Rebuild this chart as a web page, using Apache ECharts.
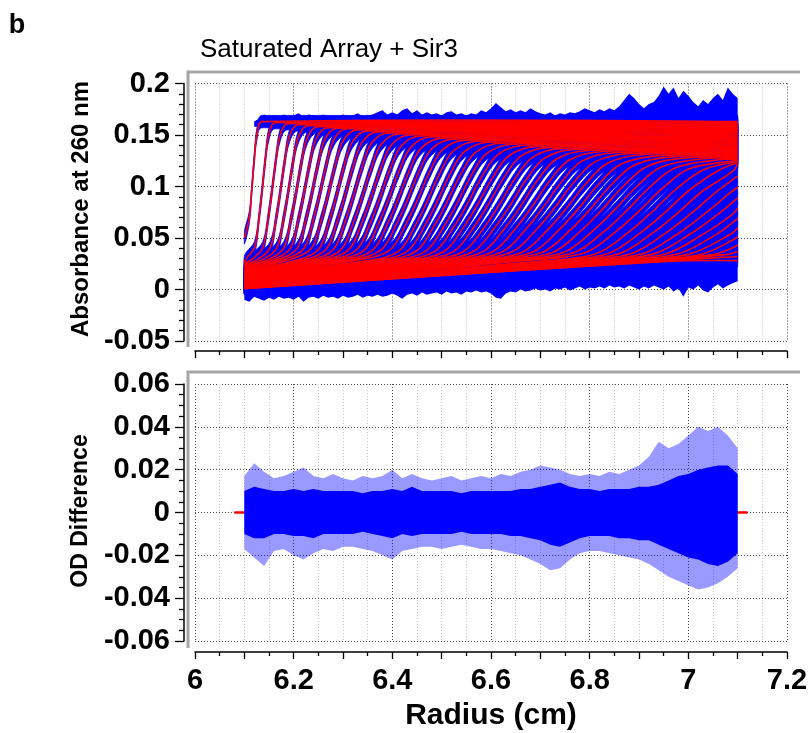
<!DOCTYPE html>
<html><head><meta charset="utf-8">
<script src="https://cdn.jsdelivr.net/npm/echarts@6/dist/echarts.min.js"></script>
<style>html,body{margin:0;padding:0;background:#fff}#c{width:812px;height:733px}</style>
</head><body><div id="c"></div>
<script>
// ---------- data ----------
// radial range of the recorded scans (cm)
const radiusStart = 6.10, radiusEnd = 7.10;

// one entry per scan (54 scans): boundary midpoint, half-width, values
const scanMid = [6.115,6.136,6.156,6.173,6.189,6.205,6.221,6.237,6.253,6.270,
  6.287,6.304,6.321,6.339,6.357,6.375,6.393,6.412,6.431,6.451,
  6.471,6.491,6.511,6.532,6.553,6.574,6.595,6.617,6.639,6.661,
  6.684,6.707,6.730,6.754,6.778,6.802,6.826,6.851,6.876,6.901,
  6.927,6.953,6.979,7.006,7.033,7.060,7.088,7.116,7.145,7.174,
  7.204,7.234,7.265,7.296];
const scanSpread = [0.011,0.014,0.017,0.019,0.021,0.023,0.025,0.027,0.029,0.031,
  0.033,0.035,0.037,0.039,0.041,0.043,0.045,0.047,0.049,0.051,
  0.053,0.055,0.057,0.059,0.061,0.063,0.065,0.067,0.069,0.071,
  0.074,0.077,0.080,0.083,0.086,0.089,0.092,0.095,0.098,0.101,
  0.104,0.107,0.110,0.113,0.116,0.120,0.124,0.128,0.132,0.136,
  0.140,0.144,0.148,0.152];
const scanMeniscus = [0.050,
  0.026,0.025,0.024,0.023,0.022,0.021,0.020,0.019,0.0185,0.018,
  0.0175,0.017,0.0165,0.016,0.0155,0.015,0.0145,0.014,0.0135,0.013,
  0.0125,0.012,0.0115,0.011,0.0105,0.010,0.0095,0.009,0.0085,0.008,
  0.0075,0.007,0.0066,0.0062,0.0058,0.0054,0.005,0.0047,0.0044,0.0041,
  0.0038,0.0035,0.0032,0.0029,0.0026,0.0023,0.002,0.0018,0.0016,0.0014,
  0.0012,0.001,0.0008];
const scanBase = [0.030,0.030,0.030,0.030,0.030,0.030,0.030,0.030,0.030,0.030,
  0.029,0.029,0.029,0.029,0.029,0.029,0.029,0.029,0.029,0.029,
  0.028,0.028,0.028,0.028,0.028,0.028,0.028,0.028,0.028,0.028,
  0.028,0.028,0.028,0.028,0.028,0.028,0.028,0.028,0.028,0.028,
  0.027,0.027,0.027,0.027,0.027,0.027,0.027,0.027,0.027,0.027,
  0.027,0.027,0.027,0.027];
const scanPlateau = [0.163,0.162,0.161,0.160,0.159,0.158,0.157,0.1565,0.156,0.155,
  0.154,0.153,0.152,0.151,0.150,0.149,0.148,0.147,0.146,0.145,
  0.144,0.143,0.142,0.141,0.140,0.139,0.138,0.137,0.136,0.135,
  0.134,0.133,0.132,0.131,0.130,0.129,0.128,0.127,0.126,0.125,
  0.124,0.123,0.122,0.121,0.120,0.119,0.118,0.117,0.116,0.115,
  0.114,0.113,0.112,0.111];
// value of each scan at the cell bottom (r = 7.10)
const scanEndValue = [0.163,0.162,0.161,0.160,0.159,0.158,0.157,0.1565,0.156,0.155,
  0.154,0.153,0.152,0.151,0.150,0.149,0.148,0.147,0.146,0.145,
  0.144,0.143,0.142,0.141,0.140,0.139,0.138,0.137,0.136,0.135,
  0.134,0.133,0.132,0.131,0.130,0.129,0.128,0.127,0.126,0.125,
  0.124,0.123,0.122,0.110,0.099,0.089,0.079,0.069,0.060,0.051,
  0.043,0.037,0.032,0.028];
// shape of a boundary: offset (in half-widths) -> fraction of the step
const profileOffset = [-2.3, -1.1, -0.45, 0, 0.45, 1.0, 1.9];
const profileFraction = [0, 0.08, 0.30, 0.50, 0.72, 0.92, 1];
// noise half-amplitude of the raw (blue) scans
const rawNoise = 0.006;

// blue noise envelope above the plateaus, radius 6.12 .. 7.10 step 0.01
const topNoiseStart = 6.12;
const topNoise = [0.163,0.166,0.170,0.168,0.169,0.167,0.170,0.168,0.169,0.171,
  0.168,0.170,0.169,0.168,0.170,0.168,0.169,0.167,0.170,0.168,
  0.169,0.171,0.168,0.169,0.170,0.172,0.174,0.170,0.172,0.170,
  0.174,0.176,0.171,0.174,0.170,0.172,0.170,0.171,0.169,0.172,
  0.173,0.170,0.171,0.169,0.171,0.170,0.174,0.172,0.176,0.181,
  0.177,0.173,0.175,0.172,0.174,0.172,0.176,0.173,0.171,0.170,
  0.172,0.169,0.171,0.170,0.172,0.171,0.173,0.176,0.174,0.172,
  0.175,0.173,0.176,0.174,0.178,0.184,0.190,0.186,0.180,0.176,
  0.180,0.182,0.188,0.197,0.190,0.196,0.186,0.193,0.188,0.182,
  0.178,0.184,0.180,0.186,0.190,0.184,0.196,0.190,0.186];
// blue noise envelope below the baselines, radius 6.10 .. 7.10 step 0.01
const bottomNoiseStart = 6.10;
const bottomNoise = [-0.010,-0.012,-0.007,-0.009,-0.011,-0.008,-0.010,-0.007,-0.009,-0.008,
  -0.010,-0.007,-0.012,-0.008,-0.007,-0.009,-0.006,-0.008,-0.007,-0.009,
  -0.006,-0.008,-0.007,-0.005,-0.008,-0.006,-0.007,-0.005,-0.007,-0.006,
  -0.004,-0.006,-0.009,-0.005,-0.004,-0.006,-0.003,-0.005,-0.004,-0.003,
  -0.005,-0.002,-0.004,-0.003,-0.005,-0.002,-0.003,-0.001,-0.003,-0.002,
  -0.004,-0.008,-0.009,-0.004,-0.002,-0.003,0.000,-0.002,-0.001,0.001,
  -0.001,0.000,-0.002,0.001,0.000,0.002,-0.001,0.001,0.003,0.000,
  0.002,0.001,0.003,0.001,0.004,0.002,0.003,0.001,0.004,0.002,
  0.000,0.003,0.001,0.004,0.002,0.000,0.003,-0.002,0.001,-0.007,
  0.002,0.000,0.004,-0.001,-0.003,0.002,0.005,0.001,0.004,0.006,0.008];
const noiseStep = 0.01;

// residuals (OD difference) envelopes, radius 6.10 .. 7.10 step 0.02
const residStart = 6.10, residStep = 0.02;
const residCoreUp = [0.010,0.012,0.011,0.010,0.010,0.011,0.010,0.011,0.010,0.010,
  0.010,0.010,0.009,0.010,0.010,0.011,0.010,0.012,0.010,0.010,
  0.010,0.010,0.009,0.010,0.010,0.010,0.010,0.010,0.011,0.011,
  0.012,0.013,0.014,0.012,0.011,0.011,0.010,0.011,0.011,0.011,
  0.012,0.012,0.013,0.015,0.017,0.018,0.020,0.021,0.022,0.022,0.018];
const residCoreDown = [-0.010,-0.012,-0.012,-0.010,-0.010,-0.011,-0.011,-0.012,-0.010,-0.010,
  -0.010,-0.010,-0.009,-0.010,-0.011,-0.012,-0.010,-0.011,-0.010,-0.010,
  -0.010,-0.010,-0.009,-0.010,-0.010,-0.010,-0.010,-0.011,-0.011,-0.012,
  -0.013,-0.015,-0.016,-0.014,-0.012,-0.011,-0.011,-0.011,-0.012,-0.012,
  -0.013,-0.013,-0.015,-0.017,-0.019,-0.021,-0.022,-0.024,-0.025,-0.023,-0.019];
const residOuterUp = [0.017,0.023,0.019,0.016,0.017,0.019,0.021,0.017,0.016,0.018,
  0.016,0.015,0.017,0.016,0.017,0.020,0.016,0.018,0.016,0.015,
  0.016,0.017,0.015,0.016,0.017,0.016,0.018,0.017,0.019,0.020,
  0.022,0.021,0.020,0.018,0.017,0.018,0.017,0.019,0.018,0.020,
  0.022,0.026,0.033,0.030,0.032,0.036,0.040,0.038,0.040,0.036,0.030];
const residOuterDown = [-0.017,-0.021,-0.025,-0.018,-0.017,-0.020,-0.022,-0.019,-0.017,-0.018,
  -0.016,-0.016,-0.017,-0.018,-0.020,-0.022,-0.018,-0.017,-0.016,-0.016,
  -0.017,-0.016,-0.015,-0.016,-0.017,-0.017,-0.018,-0.019,-0.020,-0.022,
  -0.024,-0.027,-0.026,-0.022,-0.019,-0.018,-0.018,-0.019,-0.020,-0.021,
  -0.022,-0.024,-0.027,-0.030,-0.032,-0.034,-0.036,-0.035,-0.033,-0.030,-0.026];
// red zero line of the residual panel
const residLine = [[6.08, 0], [7.12, 0]];

// axis ticks
const xTicks = {min: 6, max: 7.2, step: 0.1};
const yTopTicks = {min: -0.05, max: 0.2, step: 0.05};
const yBotTicks = {min: -0.06, max: 0.06, step: 0.02};

// ---------- build ----------
const FONT = "'Liberation Sans', Arial, Helvetica, sans-serif";
const BLUE = '#0000ff', RED = '#ff0000';
const SM = 0.35;

function scanPoints(i) {
  const pts = [[radiusStart, scanMeniscus[i]]];
  for (let k = 0; k < profileOffset.length; k++) {
    const x = scanMid[i] + profileOffset[k] * scanSpread[i];
    if (x > radiusStart + 0.003 && x < radiusEnd - 0.002) {
      pts.push([x, scanBase[i] + profileFraction[k] * (scanPlateau[i] - scanBase[i])]);
    }
  }
  pts.push([radiusEnd, scanEndValue[i]]);
  return pts;
}

function bandSeries(gridIdx, xs, hi, lo, fill, z) {
  return {
    type: 'custom', xAxisIndex: gridIdx, yAxisIndex: gridIdx, silent: true, z: z, clip: true,
    data: [[xs[0], 0]],
    renderItem: function (params, api) {
      const pts = [];
      for (let i = 0; i < xs.length; i++) pts.push(api.coord([xs[i], hi[i]]));
      for (let i = xs.length - 1; i >= 0; i--) pts.push(api.coord([xs[i], lo[i]]));
      return {type: 'polygon', shape: {points: pts}, style: {fill: fill, stroke: null}};
    }
  };
}

// raw scans: blue band of the read noise amplitude around every scan
function rawScanItem(params, api) {
  const i = api.value(2);
  const pts = scanPoints(i);
  const up = pts.map(p => api.coord([p[0], p[1] + rawNoise]));
  const dn = pts.map(p => api.coord([p[0], p[1] - rawNoise])).reverse();
  const c = up[0];
  return {type: 'polygon',
    shape: {points: up.concat(dn), smooth: SM, smoothConstraint: [[c[0], c[1]], [c[0], c[1]]]},
    style: {fill: BLUE, stroke: BLUE, lineWidth: 0.8}};
}
// fitted scans: red line
function fitScanItem(params, api) {
  const i = api.value(2);
  const pts = scanPoints(i).map(p => api.coord(p));
  return {type: 'polyline', shape: {points: pts, smooth: SM}, style: {stroke: RED, lineWidth: 1.6, fill: null}};
}

const topX = topNoise.map((_, i) => +(topNoiseStart + i * noiseStep).toFixed(3));
const topLo = topNoise.map(() => 0.158);
const botX = bottomNoise.map((_, i) => +(bottomNoiseStart + i * noiseStep).toFixed(3));
const botHi = bottomNoise.map(() => 0.024);
const resX = residCoreUp.map((_, i) => +(residStart + i * residStep).toFixed(3));
const scanItems = scanMid.map((m, i) => [Math.min(m, radiusEnd), scanPlateau[i] / 2, i]);

const series = [];
series.push(bandSeries(0, topX, topNoise, topLo, BLUE, 1));
series.push(bandSeries(0, botX, botHi, bottomNoise, BLUE, 1));
series.push({type: 'custom', xAxisIndex: 0, yAxisIndex: 0, silent: true, clip: true, z: 2,
  data: scanItems, renderItem: rawScanItem});
series.push({type: 'custom', xAxisIndex: 0, yAxisIndex: 0, silent: true, clip: true, z: 3,
  data: scanItems, renderItem: fitScanItem});
series.push({type: 'line', xAxisIndex: 1, yAxisIndex: 1, data: residLine, symbol: 'none', silent: true, z: 1,
  lineStyle: {color: RED, width: 2.5}});
series.push(bandSeries(1, resX, residOuterUp, residOuterDown, 'rgba(0,0,255,0.40)', 2));
series.push(bandSeries(1, resX, residCoreUp, residCoreDown, BLUE, 3));

const tickLab = {color: '#000', fontFamily: FONT, fontWeight: 'bold', fontSize: 29};
const blackLine = {color: '#000', width: 1.5};
const majorGrid = {color: '#4a4a4a', type: [1, 2], width: 1};
const minorGrid = {color: '#c4c4c4', type: [1, 2], width: 1};

function xAxis(gridIdx, withLabels, offset) {
  return {
    gridIndex: gridIdx, type: 'value', min: xTicks.min, max: xTicks.max, interval: xTicks.step,
    position: 'bottom', offset: offset,
    axisLine: {show: true, onZero: false, lineStyle: blackLine},
    axisTick: {show: true, inside: false, length: 7, lineStyle: {color: '#000', width: 1.3}},
    minorTick: {show: true, splitNumber: 2, length: 4, lineStyle: {color: '#000', width: 1.3}},
    axisLabel: Object.assign({show: withLabels, margin: 14, showMinLabel: true, showMaxLabel: true,
      formatter: v => { const k = Math.round(v * 10); return k % 2 === 0 ? String(k / 10) : ''; }}, tickLab),
    splitLine: {show: true, lineStyle: {color: ['#4a4a4a', '#c4c4c4'], type: [1, 2], width: 1}},
    minorSplitLine: {show: true, lineStyle: minorGrid},
    name: withLabels ? 'Radius (cm)' : '', nameLocation: 'middle', nameGap: 49,
    nameTextStyle: {color: '#000', fontFamily: FONT, fontWeight: 'bold', fontSize: 30}
  };
}
function yAxis(gridIdx, t, minorSplit) {
  return {
    gridIndex: gridIdx, type: 'value', min: t.min, max: t.max, interval: t.step,
    position: 'left', offset: 11,
    axisLine: {show: true, onZero: false, lineStyle: blackLine},
    axisTick: {show: true, inside: false, length: 9, lineStyle: {color: '#000', width: 1.3}},
    minorTick: {show: true, splitNumber: minorSplit, length: 5, lineStyle: {color: '#000', width: 1.3}},
    axisLabel: Object.assign({show: true, margin: 14, showMinLabel: true, showMaxLabel: true}, tickLab),
    splitLine: {show: true, lineStyle: majorGrid},
    minorSplitLine: {show: false}
  };
}

const option = {
  animation: false,
  backgroundColor: '#fff',
  grid: [
    {left: 195, right: 25, top: 83.5, height: 257.5, containLabel: false, outerBoundsMode: 'none'},
    {left: 195, right: 25, top: 384, height: 257, containLabel: false, outerBoundsMode: 'none'}
  ],
  xAxis: [xAxis(0, false, 10), xAxis(1, true, 11)],
  yAxis: [yAxis(0, yTopTicks, 5), yAxis(1, yBotTicks, 4)],
  graphic: [
    {type: 'polyline', silent: true, z: 0, shape: {points: [[188, 347], [188, 72], [800, 72]]},
      style: {stroke: '#a6a6a6', lineWidth: 3, fill: null}},
    {type: 'polyline', silent: true, z: 0, shape: {points: [[188, 648], [188, 372], [800, 372]]},
      style: {stroke: '#a6a6a6', lineWidth: 3, fill: null}},
    {type: 'text', x: 17, y: 26, silent: true,
      style: {text: 'b', font: "bold 27px 'Liberation Sans', Arial, sans-serif", fill: '#000', align: 'center', verticalAlign: 'middle'}},
    {type: 'text', x: 200, y: 50, silent: true,
      style: {text: 'Saturated Array + Sir3', font: "26px 'Liberation Sans', Arial, sans-serif", fill: '#000', align: 'left', verticalAlign: 'middle'}},
    {type: 'text', x: 81, y: 209, rotation: Math.PI / 2, silent: true,
      style: {text: 'Absorbance at 260 nm', font: "bold 24px 'Liberation Sans', Arial, sans-serif", fill: '#000', align: 'center', verticalAlign: 'middle'}},
    {type: 'text', x: 81, y: 511, rotation: Math.PI / 2, silent: true,
      style: {text: 'OD Difference', font: "bold 23px 'Liberation Sans', Arial, sans-serif", fill: '#000', align: 'center', verticalAlign: 'middle'}}
  ],
  series: series
};

const chart = echarts.init(document.getElementById('c'), null, {renderer: 'canvas'});
chart.setOption(option);
</script>
</body></html>
